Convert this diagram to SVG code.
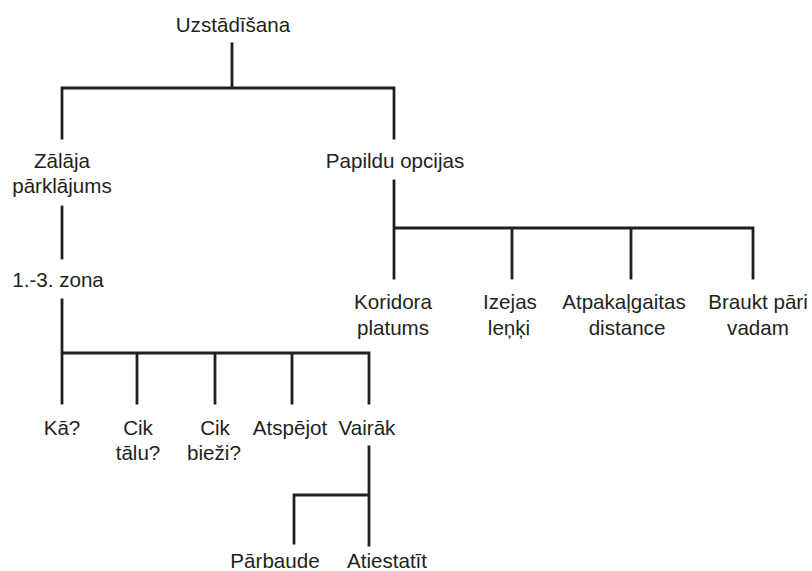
<svg xmlns="http://www.w3.org/2000/svg" width="812" height="571" viewBox="0 0 812 571">
<style>
text{font-family:"Liberation Sans",Arial,sans-serif;font-size:20.6px;fill:#231f20;text-anchor:middle}
.c{stroke:#231f20;stroke-width:2.8;fill:none;stroke-linecap:square}
</style>
<rect width="812" height="571" fill="#fff"/>
<g id="connectors" class="c">
<path d="M232 44V88M62 88H394M62 88V138M394 88V138"/>
<path d="M394 181V228H753M394 228V278M512 228V278M631 228V278M753 228V278"/>
<path d="M62 207V258"/>
<path d="M62 300V353H369M62 353V403M137 353V403M215 353V403M292 353V403M369 353V403"/>
<path d="M369 447V545M294 495H369M294 495V543"/>
</g>
<g id="n-root"><text x="233" y="32">Uzstādīšana</text></g>
<g id="n-zalaja"><text x="62" y="168">Zālāja</text><text x="62" y="193">pārklājums</text></g>
<g id="n-papildu"><text x="395" y="168">Papildu opcijas</text></g>
<g id="n-zona"><text x="58" y="287">1.-3. zona</text></g>
<g id="n-koridora"><text x="393" y="309">Koridora</text><text x="393" y="335">platums</text></g>
<g id="n-izejas"><text x="510" y="309">Izejas</text><text x="509" y="335">leņķi</text></g>
<g id="n-atpakalgaitas"><text x="624" y="309">Atpakaļgaitas</text><text x="627" y="335">distance</text></g>
<g id="n-braukt"><text x="758" y="309">Braukt pāri</text><text x="758" y="335">vadam</text></g>
<g id="n-ka"><text x="62" y="435">Kā?</text></g>
<g id="n-talu"><text x="138" y="435">Cik</text><text x="138" y="460">tālu?</text></g>
<g id="n-biezi"><text x="215" y="435">Cik</text><text x="214" y="460">bieži?</text></g>
<g id="n-atspejot"><text x="290" y="435">Atspējot</text></g>
<g id="n-vairak"><text x="367" y="435">Vairāk</text></g>
<g id="n-parbaude"><text x="275" y="568">Pārbaude</text></g>
<g id="n-atiestatit"><text x="387" y="568">Atiestatīt</text></g>
</svg>
